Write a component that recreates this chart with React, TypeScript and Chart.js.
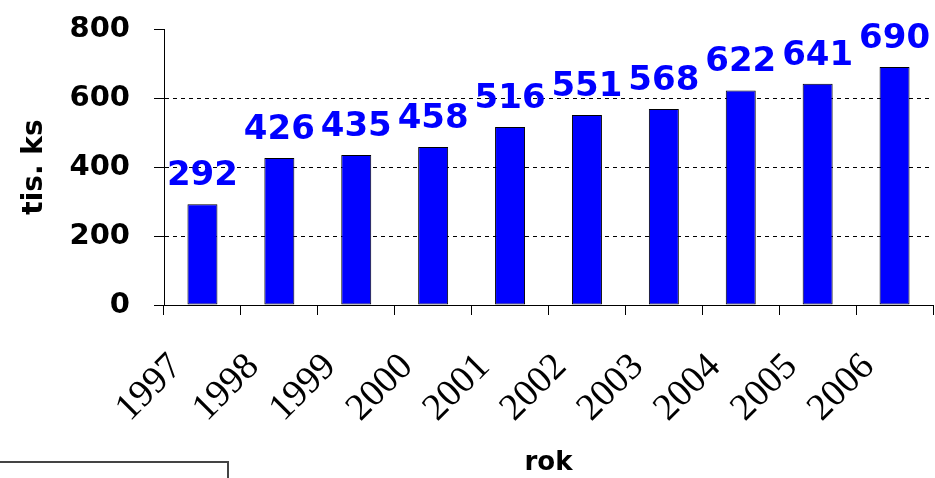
import React, { useEffect, useRef } from "react";
import { Chart, registerables } from "chart.js";

Chart.register(...registerables);

const years = ["1997", "1998", "1999", "2000", "2001", "2002", "2003", "2004", "2005", "2006"];
const values = [292, 426, 435, 458, 516, 551, 568, 622, 641, 690];
const yMin = 0;
const yMax = 800;
const yStep = 200;
const yTitle = "tis. ks";
const xTitle = "rok";

const valueLabels = {
  id: "valueLabels",
  afterDatasetsDraw(chart: any) {
    const { ctx } = chart;
    const meta = chart.getDatasetMeta(0);
    const data = chart.data.datasets[0].data;
    ctx.save();
    ctx.font = 'bold 34px "DejaVu Sans"';
    ctx.fillStyle = "#0000FF";
    ctx.textAlign = "center";
    ctx.textBaseline = "alphabetic";
    meta.data.forEach((bar: any, i: number) => {
      ctx.fillText(String(data[i]), bar.x, bar.y - 19);
    });
    ctx.restore();
  },
};

export default function App() {
  const ref = useRef<HTMLCanvasElement>(null);

  useEffect(() => {
    if (!ref.current) return;
    const chart = new Chart(ref.current, {
      type: "bar",
      data: {
        labels: years,
        datasets: [
          {
            data: values,
            backgroundColor: "#0000FF",
            borderColor: "#000000",
            borderWidth: 1,
            borderSkipped: false,
            barPercentage: 0.39,
            categoryPercentage: 1,
          },
        ],
      },
      options: {
        animation: false,
        responsive: false,
        devicePixelRatio: 1,
        layout: { padding: { top: 29, right: 2, bottom: 0, left: 0 } },
        plugins: {
          legend: { display: false },
          tooltip: { enabled: false },
        },
        scales: {
          x: {
            offset: true,
            grid: {
              display: true,
              offset: true,
              drawOnChartArea: false,
              drawTicks: true,
              tickLength: 10,
              color: "#000",
              tickColor: "#000",
              tickBorderDash: [],
            },
            border: { display: true, color: "#000", width: 1 },
            ticks: {
              autoSkip: false,
              minRotation: 45,
              maxRotation: 45,
              padding: 30,
              labelOffset: -26,
              color: "#000",
              font: { family: '"Liberation Serif"', size: 38, lineHeight: 1.2 },
            },
            title: {
              display: true,
              text: xTitle,
              color: "#000",
              font: { family: '"DejaVu Sans"', size: 26, weight: "bold", lineHeight: 1.1 },
              padding: { top: 0, bottom: 0 },
            },
            afterFit(scale: any) {
              scale.height = 173;
              scale.paddingLeft = 0;
              scale.paddingRight = 0;
            },
          },
          y: {
            min: yMin,
            max: yMax,
            grid: {
              display: true,
              drawTicks: true,
              tickLength: 10,
              color: (c: any) =>
                c.tick && (c.tick.value === yMax || c.tick.value === yMin) ? "rgba(0,0,0,0)" : "#000",
              tickColor: "#000",
              tickBorderDash: [],
            },
            border: { display: true, color: "#000", width: 1, dash: [4, 4] },
            ticks: {
              stepSize: yStep,
              padding: 24,
              color: "#000",
              font: { family: '"DejaVu Sans"', size: 29, weight: "bold", lineHeight: 1.2 },
            },
            title: {
              display: true,
              text: yTitle,
              color: "#000",
              font: { family: '"DejaVu Sans"', size: 28, weight: "bold", lineHeight: 1.2 },
              padding: { top: 18, bottom: 0 },
            },
            afterFit(scale: any) {
              scale.width = 164;
              scale.paddingTop = 0;
              scale.paddingBottom = 0;
            },
          },
        },
      },
      plugins: [valueLabels],
    });
    return () => chart.destroy();
  }, []);

  return (
    <div style={{ position: "absolute", left: 0, top: 0, width: 935, height: 478, background: "#fff", overflow: "hidden" }}>
      <canvas ref={ref} width={935} height={478} style={{ display: "block" }} />
      <div
        style={{
          position: "absolute",
          left: -4,
          top: 461,
          width: 233,
          height: 40,
          boxSizing: "border-box",
          border: "2px solid #444",
        }}
      />
    </div>
  );
}
